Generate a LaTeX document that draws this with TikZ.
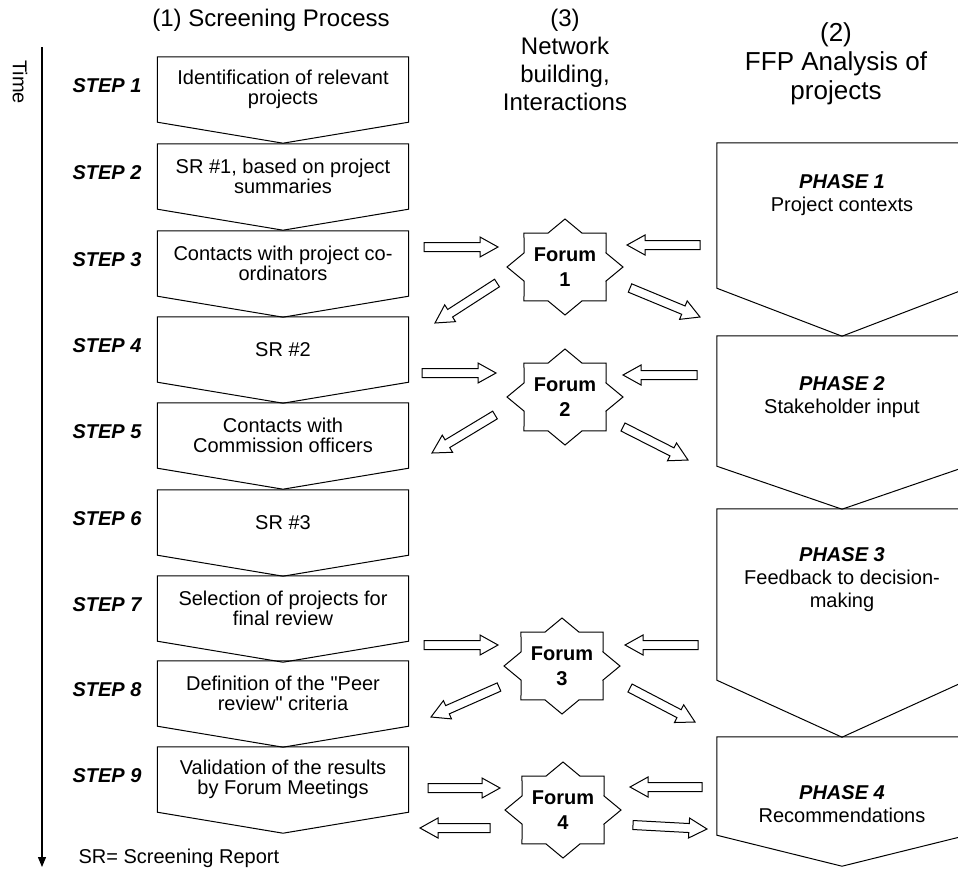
\documentclass[tikz,border=0pt]{standalone}
\usepackage{fontspec}
\setmainfont{Liberation Sans}
\usetikzlibrary{calc, arrows.meta}
\tikzset{ outline/.style = { draw = black
                           , line width = 1pt
                           , line join  = miter
                           },
          stepbox/.style = { rectangle
                           , inner sep      = 2pt
                           , minimum width  = 251pt
                           , minimum height = 65pt
                           , align          = center
                           , font           = \fontsize{20}{20}\selectfont
                           },
          phasebox/.style = { rectangle
                            , inner sep     = 0pt
                            , minimum width = 250pt
                            },
          phasetext/.style = { align = center
                             , font  = \fontsize{20}{23}\selectfont
                             },
          steplabel/.style = { anchor = east
                             , font   = \fontsize{20}{20}\selectfont\bfseries\itshape
                             },
          forum/.style = { align = center
                         , inner sep = 0pt
                         , font  = \fontsize{20}{25}\selectfont\bfseries
                         },
          headtext/.style = { align = center
                            , font  = \fontsize{24}{28}\selectfont
                            },
          note/.style = { font = \fontsize{20}{20}\selectfont },
          arrowbody/.style = { draw = black
                             , line width = 1pt
                             , fill = white
                             },
          timeline/.style = { line width = 1.2pt
                            , -{Triangle[length=10pt, width=8pt]}
                            }
        }
% box with a pointed bottom
\newcommand{\chevron}[2]{\draw[outline] (#1.north west) -- (#1.north east)
    -- (#1.south east) -- ($(#1.south)+(0,#2)$) -- (#1.south west) -- cycle;}
% eight pointed star round a forum node
\newcommand{\forumstar}[1]{\draw[outline, shift={(#1.center)}] (58,0)
    \foreach \k in {1,...,15}{ -- ({58*cos(\k*22.5)*(1-0.235*mod(\k,2))},
                                  {48*sin(\k*22.5)*(1-0.235*mod(\k,2))}) } -- cycle;}
% hollow block arrow from #1 to #2
\newcommand{\blockarrow}[2]{%
  \coordinate (ah) at ($(#2)!18pt!(#1)$);
  \draw[arrowbody] ($(#1)!4.5pt!90:(#2)$) -- ($(ah)!4.5pt!-90:(#1)$)
      -- ($(ah)!10pt!-90:(#1)$) -- (#2) -- ($(ah)!10pt!90:(#1)$)
      -- ($(ah)!4.5pt!90:(#1)$) -- ($(#1)!4.5pt!-90:(#2)$) -- cycle;}

\begin{document}
\begin{tikzpicture}[x=1pt, y=-1pt]
    \useasboundingbox (0,0) rectangle (958,871);
    \clip (0,0) rectangle (958,871);

    % headings
    \node[headtext] (h1) at (271,20) {(1) Screening Process};
    \node[headtext] (h3) at (565,60) {(3)\\Network\\building,\\Interactions};
    \node[headtext, font=\fontsize{26}{29}\selectfont] (h2) at (836,64) {(2)\\FFP Analysis of\\projects};

    % time axis
    \coordinate (t0) at (42,47);
    \coordinate (t1) at (42,867);
    \draw[timeline] (t0) -- (t1);
    \node[note, rotate=-90] (time) at (20,82) {Time};
    \node[note, anchor=west] (sr) at (75,858) {SR= Screening Report};

    % screening steps
    \node[stepbox] (s1) at (283,89.5)  {Identification of relevant\\projects};
    \node[stepbox] (s2) at (283,176.5) {SR \#1, based on project\\summaries};
    \node[stepbox] (s3) at (283,263.5) {Contacts with project co-\\ordinators};
    \node[stepbox] (s4) at (283,349.5) {SR \#2};
    \node[stepbox] (s5) at (283,435.5) {Contacts with\\Commission officers};
    \node[stepbox] (s6) at (283,522.5) {SR \#3};
    \node[stepbox] (s7) at (283,608.5) {Selection of projects for\\final review};
    \node[stepbox] (s8) at (283,693.5) {Definition of the \textquotedbl Peer\\review\textquotedbl\ criteria};
    \node[stepbox] (s9) at (283,779.5) {Validation of the results\\by Forum Meetings};
    \chevron{s1}{21} \chevron{s2}{21} \chevron{s3}{21}
    \chevron{s4}{21} \chevron{s5}{21} \chevron{s6}{21}
    \chevron{s7}{21} \chevron{s8}{21} \chevron{s9}{21}

    \node[steplabel] (l1) at (145,86)  {STEP 1};
    \node[steplabel] (l2) at (145,173) {STEP 2};
    \node[steplabel] (l3) at (145,260) {STEP 3};
    \node[steplabel] (l4) at (145,346) {STEP 4};
    \node[steplabel] (l5) at (145,432) {STEP 5};
    \node[steplabel] (l6) at (145,519) {STEP 6};
    \node[steplabel] (l7) at (145,605) {STEP 7};
    \node[steplabel] (l8) at (145,690) {STEP 8};
    \node[steplabel] (l9) at (145,776) {STEP 9};

    % FFP phases
    \node[phasebox, minimum height=145pt] (p1) at (842,215.5) {};
    \node[phasebox, minimum height=130pt] (p2) at (842,401)   {};
    \node[phasebox, minimum height=171pt] (p3) at (842,594.5) {};
    \node[phasebox, minimum height=98pt]  (p4) at (842,786)   {};
    \chevron{p1}{48} \chevron{p2}{43} \chevron{p3}{57} \chevron{p4}{31}
    \node[phasetext] (q1) at (842,195)   {\textbf{\textit{PHASE 1}}\\Project contexts};
    \node[phasetext] (q2) at (842,397.5) {\textbf{\textit{PHASE 2}}\\Stakeholder input};
    \node[phasetext] (q3) at (842,580)   {\textbf{\textit{PHASE 3}}\\Feedback to decision-\\making};
    \node[phasetext] (q4) at (842,804)   {\textbf{\textit{PHASE 4}}\\Recommendations};

    % forums
    \node[forum] (f1) at (565,267) {Forum\\1};
    \node[forum] (f2) at (565,397) {Forum\\2};
    \node[forum] (f3) at (562,666) {Forum\\3};
    \node[forum] (f4) at (563,810) {Forum\\4};
    \forumstar{f1} \forumstar{f2} \forumstar{f3} \forumstar{f4}

    % arrow ends
    \coordinate (f1la) at (424,247); \coordinate (f1lb) at (498,247);
    \coordinate (f1ra) at (700,245); \coordinate (f1rb) at (627,245);
    \coordinate (f1da) at (497,283); \coordinate (f1db) at (435,323);
    \coordinate (f1ea) at (630,288); \coordinate (f1eb) at (700,317);
    \coordinate (f2la) at (422,373); \coordinate (f2lb) at (496,373);
    \coordinate (f2ra) at (697,375); \coordinate (f2rb) at (623,375);
    \coordinate (f2da) at (495,415); \coordinate (f2db) at (432,453);
    \coordinate (f2ea) at (623,427); \coordinate (f2eb) at (688,460);
    \coordinate (f3la) at (424,645); \coordinate (f3lb) at (498,645);
    \coordinate (f3ra) at (698,645); \coordinate (f3rb) at (625,645);
    \coordinate (f3da) at (499,687); \coordinate (f3db) at (431,717);
    \coordinate (f3ea) at (630,688); \coordinate (f3eb) at (695,722);
    \coordinate (f4la) at (428,788); \coordinate (f4lb) at (500,788);
    \coordinate (f4ra) at (702,787); \coordinate (f4rb) at (630,787);
    \coordinate (f4da) at (490,828); \coordinate (f4db) at (420,828);
    \coordinate (f4ea) at (633,825); \coordinate (f4eb) at (707,829);

    \blockarrow{f1la}{f1lb} \blockarrow{f1ra}{f1rb}
    \blockarrow{f1da}{f1db} \blockarrow{f1ea}{f1eb}
    \blockarrow{f2la}{f2lb} \blockarrow{f2ra}{f2rb}
    \blockarrow{f2da}{f2db} \blockarrow{f2ea}{f2eb}
    \blockarrow{f3la}{f3lb} \blockarrow{f3ra}{f3rb}
    \blockarrow{f3da}{f3db} \blockarrow{f3ea}{f3eb}
    \blockarrow{f4la}{f4lb} \blockarrow{f4ra}{f4rb}
    \blockarrow{f4da}{f4db} \blockarrow{f4ea}{f4eb}
\end{tikzpicture}
\end{document}
